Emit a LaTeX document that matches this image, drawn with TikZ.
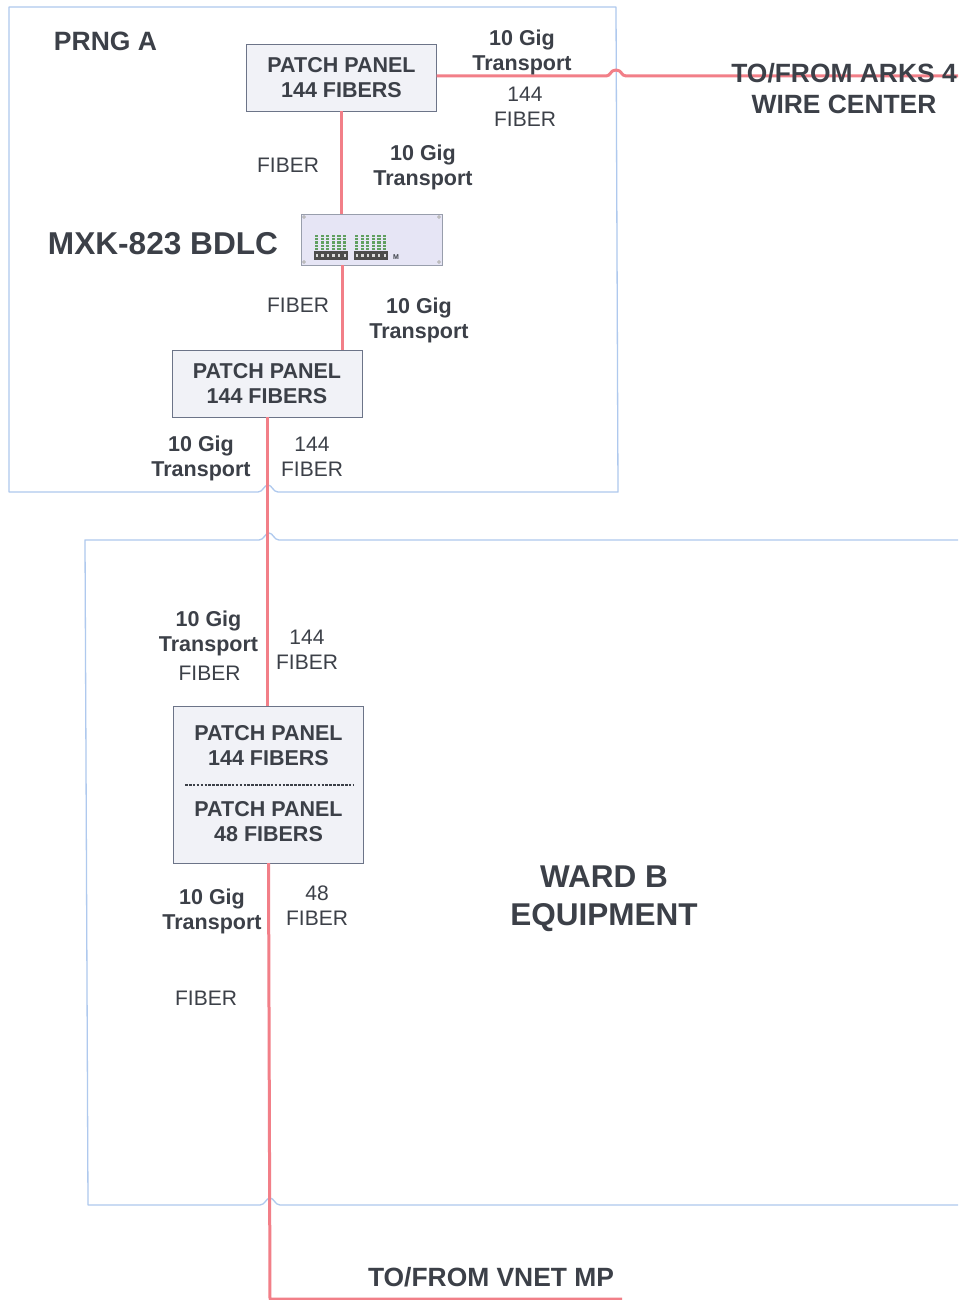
\documentclass[tikz,border=0pt]{standalone}
\usepackage{fontspec}
\setmainfont{Liberation Sans}
\definecolor{ink}{HTML}{3C4048}
\definecolor{fib}{HTML}{F27F88}
\definecolor{frm}{HTML}{AFC9EE}
\definecolor{boxf}{HTML}{F1F2F7}
\definecolor{boxl}{HTML}{6C7488}
\definecolor{devf}{HTML}{E6E5F5}
\begin{document}
\begin{tikzpicture}[x=1pt,y=-1pt,
  every node/.style={text=ink,inner sep=0pt,outer sep=0pt},
  lab/.style={font=\fontsize{21.5}{25}\selectfont\bfseries,align=center},
  labr/.style={font=\fontsize{21}{25}\selectfont,align=center},
  big/.style={font=\fontsize{31.6}{36}\selectfont\bfseries,align=center},
  mid/.style={font=\fontsize{26.4}{31}\selectfont\bfseries,align=center},
  wardt/.style={font=\fontsize{31.5}{38}\selectfont\bfseries,align=center},
  panel/.style={draw=boxl,line width=1pt,fill=boxf,minimum width=190pt,align=center,font=\fontsize{21.5}{25}\selectfont\bfseries},
  fibre/.style={draw=fib,line width=3pt,line join=round},
  frame/.style={draw=frm,line width=1.3pt,line join=round}]
\useasboundingbox (0,0) rectangle (958,1300);
\fill[white] (0,0) rectangle (958,1300);
% frames
\draw[frame] (9,7) -- (616,7) -- (618,492) -- (278,492) .. controls (273,492) and (272,485) .. (268,485) .. controls (264,485) and (263,492) .. (258,492) -- (9,492) -- cycle;
\draw[frame] (958,540) -- (279,540) .. controls (274,540) and (273,533) .. (269,533) .. controls (265,533) and (264,540) .. (259,540) -- (85,540) -- (88,1205) -- (260,1205) .. controls (265,1205) and (266,1198) .. (270,1198) .. controls (274,1198) and (275,1205) .. (280,1205) -- (958,1205);
% nodes
\node[panel,minimum height=67pt] (pp1) at (341.5,78) {PATCH PANEL\\144 FIBERS};
\node[panel,minimum height=67pt] (pp2) at (267,383.5) {\raisebox{1pt}{PATCH PANEL}\\\raisebox{1pt}{144 FIBERS}};
\node[panel,minimum height=157pt] (pp3) at (268.5,784.5) {};
\node[rectangle,draw=boxl!70,line width=.8pt,fill=devf,minimum width=141pt,minimum height=51pt] (dev) at (371.5,239.5) {};
\coordinate (east) at (958,76);
\coordinate (bot) at (270,1299);
\coordinate (botr) at (622,1299);
% connectors
\draw[fibre] (pp1.east |- east) -- (606,76) .. controls (611,76) and (610,70) .. (616,70) .. controls (622,70) and (621,76) .. (626,76) -- (east);
\draw[fibre] (pp1.south) -- (pp1.south |- dev.north);
\draw[fibre] ([xshift=1pt]pp1.south |- dev.south) -- ([xshift=1pt]pp1.south |- pp2.north);
\draw[fibre] (pp2.south) -- (pp3.north -| pp2.south) ;
\draw[fibre] (pp3.south) -- (bot) -- (botr);
% pp3 text
\node[lab] at (268.5,746) {PATCH PANEL\\144 FIBERS};
\draw[ink,line width=1.2pt,dash pattern=on 2.6pt off 1.3pt] (185,785) -- (353,785);
\node[lab] at (268.5,821.5) {PATCH PANEL\\48 FIBERS};
% device
\foreach \c in {304,439}{\foreach \r in {217,262}{\draw[gray!70,line width=.6pt,fill=white] (\c,\r) circle (1.4pt);}}
\foreach \s in {315,355}{
  \foreach \i in {0,...,5}{
    \foreach \j in {0,...,4}{
      \fill[green!25!gray] (\s+\i*5.6,235+\j*3.2) rectangle (\s+\i*5.6+3.2,237.2+\j*3.2);}
    \fill[black!70] (\s-1+\i*5.6,251) rectangle (\s+\i*5.6+4.6,259.5);
    \fill[white!70!gray] (\s+.6+\i*5.6,253.5) rectangle (\s+\i*5.6+3,256.5);}
}
\node[font=\fontsize{7}{7}\selectfont\bfseries] at (396,257.5) {M};
% text
\node[font=\fontsize{26.5}{32}\selectfont\bfseries] at (105.5,41) {PRNG A};
\node[big] at (163,244) {MXK-823 BDLC};
\node[lab] at (522,52.5) {10 Gig\\Transport};
\node[labr] at (525,107) {144\\FIBER};
\node[labr] at (288,165) {FIBER};
\node[lab] at (423,167) {10 Gig\\Transport};
\node[labr] at (298,305) {FIBER};
\node[lab] at (419,320.5) {10 Gig\\Transport};
\node[lab] at (201,458) {10 Gig\\Transport};
\node[labr] at (312,457) {144\\FIBER};
\node[lab] at (208.5,633.5) {10 Gig\\Transport};
\node[labr] at (209.5,673) {FIBER};
\node[labr] at (307,650) {144\\FIBER};
\node[lab] at (212,911) {10 Gig\\Transport};
\node[labr] at (317,906) {48\\FIBER};
\node[labr] at (206,998) {FIBER};
\node[mid] at (844,88.5) {TO/FROM ARKS 4\\WIRE CENTER};
\node[wardt] at (604,899) {WARD B\\EQUIPMENT};
\node[mid] at (491,1277.5) {TO/FROM VNET MP};
\end{tikzpicture}
\end{document}
